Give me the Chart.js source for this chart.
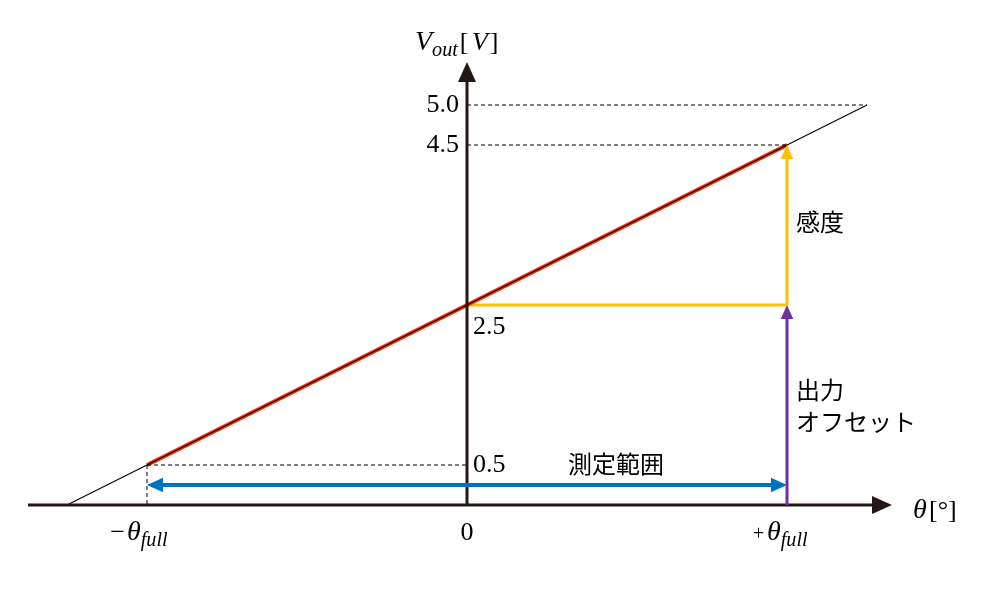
<!DOCTYPE html>
<html><head><meta charset="utf-8">
<script src="https://cdn.jsdelivr.net/npm/chart.js@4"></script>
<style>html,body{margin:0;background:#fff}#w{width:1000px;height:590px}</style>
</head><body><div id="w"><canvas id="c"></canvas></div>
<script>
const thinLine=[{x:-1.25,y:0},{x:1.25,y:5}];
const redLine=[{x:-1,y:0.5},{x:0,y:2.5},{x:1,y:4.5}];
const offsetLevel=[{x:0,y:2.5},{x:1,y:2.5}];
const dash05=[{x:-1,y:0.5},{x:0,y:0.5}];
const dash05v=[{x:-1,y:0.5},{x:-1,y:0}];
const dash45=[{x:0,y:4.5},{x:1,y:4.5}];
const dash50=[{x:0,y:5},{x:1.25,y:5}];
const yTicks=[{v:5.0,t:'5.0',side:'L'},{v:4.5,t:'4.5',side:'L'},{v:2.5,t:'2.5',side:'R'},{v:0.5,t:'0.5',side:'R'}];
const xTicks=[{v:0,t:'0'}];
const rangeY=0.25;
const ds=(d,c,w,dash)=>({data:d,borderColor:c,borderWidth:w,borderDash:dash||[],pointRadius:0,showLine:true,fill:false});
const serif='"Liberation Serif","DejaVu Serif",serif';
const jp='"Noto Sans CJK JP",sans-serif';
function arrow(ctx,x1,y1,x2,y2,col,w,head){
  const a=Math.atan2(y2-y1,x2-x1);
  ctx.strokeStyle=col;ctx.fillStyle=col;ctx.lineWidth=w;
  ctx.beginPath();ctx.moveTo(x1,y1);ctx.lineTo(x2-Math.cos(a)*head*0.8,y2-Math.sin(a)*head*0.8);ctx.stroke();
  ctx.beginPath();ctx.moveTo(x2,y2);
  ctx.lineTo(x2-head*Math.cos(a)+head*0.45*Math.sin(a),y2-head*Math.sin(a)-head*0.45*Math.cos(a));
  ctx.lineTo(x2-head*Math.cos(a)-head*0.45*Math.sin(a),y2-head*Math.sin(a)+head*0.45*Math.cos(a));
  ctx.closePath();ctx.fill();
}
function sub(ctx,main,subt,x,y,align,size){
  ctx.font='italic '+size+'px '+serif;
  const mw=ctx.measureText(main).width;
  ctx.font='italic '+(size*0.72)+'px '+serif;
  const sw=ctx.measureText(subt).width;
  let sx=align==='center'?x-(mw+sw)/2:x;
  ctx.textAlign='left';ctx.textBaseline='alphabetic';
  ctx.font='italic '+size+'px '+serif;ctx.fillText(main,sx,y);
  ctx.font='italic '+(size*0.72)+'px '+serif;ctx.fillText(subt,sx+mw,y+size*0.2);
  return sx+mw+sw;
}
const deco={id:'deco',afterDatasetsDraw(ch){
  const c=ch.ctx,X=ch.scales.x,Y=ch.scales.y;
  const px=v=>X.getPixelForValue(v),py=v=>Y.getPixelForValue(v);
  c.save();
  arrow(c,28,py(0),892,py(0),'#231815',3,20);
  arrow(c,px(0),py(0),px(0),62,'#231815',3,20);
  arrow(c,px(1),py(2.5),px(1),py(4.5),'#FFC000',3,14);
  arrow(c,px(1),py(0),px(1),py(2.5),'#7030A0',3,14);
  arrow(c,px(0),py(rangeY),px(1),py(rangeY),'#0070C0',4,16);
  arrow(c,px(0),py(rangeY),px(-1),py(rangeY),'#0070C0',4,16);
  c.fillStyle='#000';
  c.font='26px '+serif;c.textBaseline='middle';
  yTicks.forEach(t=>{
    if(t.side==='L'){c.textAlign='right';c.fillText(t.t,px(0)-8,py(t.v));}
    else{c.textAlign='left';c.fillText(t.t,px(0)+6,py(t.v)+22*(t.v===2.5?1:0));}
  });
  c.textAlign='center';c.textBaseline='alphabetic';
  xTicks.forEach(t=>c.fillText(t.t,px(t.v),540));
  // θ labels
  c.font='26px '+serif;c.textAlign='right';c.fillText('−',px(-1)-22,540);
  sub(c,'θ','full',px(-1)-20,540,'left',28);
  c.textAlign='right';c.fillText('+',px(1)-22,540);
  sub(c,'θ','full',px(1)-20,540,'left',28);
  let e=sub(c,'V','out',415,50,'left',28);
  c.font='26px '+serif;c.textAlign='left';c.fillText('[',e+2,50);
  c.font='italic 26px '+serif;let w1=c.measureText('[').width;
  c.fillText('V',e+2+w1+2,50);
  let w2=c.measureText('V').width;c.font='26px '+serif;c.fillText(']',e+6+w1+w2,50);
  c.font='italic 28px '+serif;c.fillText('θ',913,518);
  c.font='26px '+serif;c.fillText('[°]',929,518);
  c.font='24px '+jp;c.textAlign='left';c.textBaseline='middle';
  c.fillText('感度',796,222);
  c.fillText('出力',796,390);
  c.fillText('オフセット',796,422);
  c.fillText('測定範囲',568,464);
  c.restore();
}};
new Chart(document.getElementById('c'),{type:'scatter',
 data:{datasets:[ds(thinLine,'#000',1.2),ds(dash05,'#000',1,[4,3]),ds(dash05v,'#000',1,[4,3]),ds(dash45,'#000',1,[4,3]),ds(dash50,'#000',1,[4,3]),ds(redLine,'#FF2A00',4),ds(offsetLevel,'#FFC000',3)]},
 options:{responsive:true,maintainAspectRatio:false,animation:false,
  layout:{padding:{left:19,right:53,top:41,bottom:45}},
  plugins:{legend:{display:false},tooltip:{enabled:false}},
  scales:{x:{type:'linear',min:-1.4,max:1.5,display:false},y:{type:'linear',min:-0.5,max:5.8,display:false}}},
 plugins:[deco]});
</script></body></html>
